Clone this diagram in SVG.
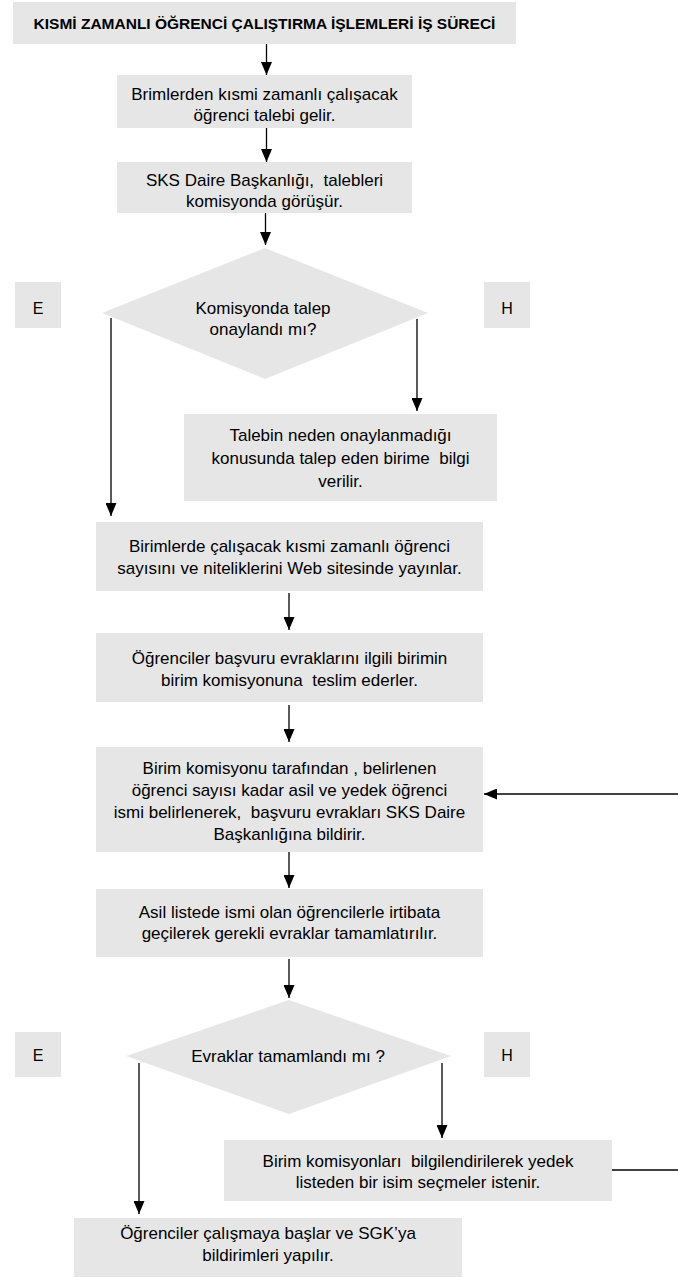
<svg xmlns="http://www.w3.org/2000/svg" width="678" height="1278" viewBox="0 0 678 1278">
<style>
.box{fill:#e6e6e6;stroke:none}
.t{font-family:"Liberation Sans",Arial,sans-serif;font-size:17px;fill:#000;text-anchor:middle;white-space:pre}
.lbl{font-family:"Liberation Sans",Arial,sans-serif;font-size:16px;fill:#000;text-anchor:middle}
.title{font-family:"Liberation Sans",Arial,sans-serif;font-size:15.5px;font-weight:bold;fill:#000;text-anchor:middle}
.c{stroke:#000;stroke-width:1.3;fill:none;marker-end:url(#ah)}
.l{stroke:#000;stroke-width:1.3;fill:none}
</style>
<defs>
<marker id="ah" markerUnits="userSpaceOnUse" markerWidth="13" markerHeight="11" refX="13" refY="5.5" orient="auto">
<path d="M0,0 L13,5.5 L0,11 z" fill="#000"/>
</marker>
</defs>
<rect width="678" height="1278" fill="#fff"/>
<g id="title">
<rect class="box" x="13" y="2" width="503" height="42"/>
<text class="title" x="264.5" y="29">KISMİ ZAMANLI ÖĞRENCİ ÇALIŞTIRMA İŞLEMLERİ İŞ SÜRECİ</text>
</g>
<g id="n1">
<rect class="box" x="117" y="75" width="295" height="53"/>
<text class="t" x="264.5" y="100">Brimlerden kısmi zamanlı çalışacak</text>
<text class="t" x="264.5" y="121">öğrenci talebi gelir.</text>
</g>
<g id="n2">
<rect class="box" x="117" y="162" width="295" height="51"/>
<text class="t" x="264.5" y="186">SKS Daire Başkanlığı,  talebleri</text>
<text class="t" x="264.5" y="207">komisyonda görüşür.</text>
</g>
<g id="d1">
<polygon class="box" points="265,248 428,313 265,379 102,313"/>
<text class="t" x="263" y="314">Komisyonda talep</text>
<text class="t" x="263" y="335">onaylandı mı?</text>
</g>
<g id="e1">
<rect class="box" x="15" y="282" width="46" height="46"/>
<text class="lbl" x="38" y="314">E</text>
</g>
<g id="h1">
<rect class="box" x="484" y="282" width="46" height="46"/>
<text class="lbl" x="507" y="314">H</text>
</g>
<g id="n3">
<rect class="box" x="184" y="414" width="313" height="87"/>
<text class="t" x="340.5" y="441">Talebin neden onaylanmadığı</text>
<text class="t" x="340.5" y="464">konusunda talep eden birime  bilgi</text>
<text class="t" x="340.5" y="487">verilir.</text>
</g>
<g id="n4">
<rect class="box" x="96" y="522" width="387" height="69"/>
<text class="t" x="289.5" y="552">Birimlerde çalışacak kısmi zamanlı öğrenci</text>
<text class="t" x="289.5" y="574">sayısını ve niteliklerini Web sitesinde yayınlar.</text>
</g>
<g id="n5">
<rect class="box" x="96" y="633" width="387" height="69"/>
<text class="t" x="289.5" y="664">Öğrenciler başvuru evraklarını ilgili birimin</text>
<text class="t" x="289.5" y="686">birim komisyonuna  teslim ederler.</text>
</g>
<g id="n6">
<rect class="box" x="96" y="747" width="387" height="105"/>
<text class="t" x="289.5" y="774">Birim komisyonu tarafından , belirlenen</text>
<text class="t" x="289.5" y="796">öğrenci sayısı kadar asil ve yedek öğrenci</text>
<text class="t" x="289.5" y="818">ismi belirlenerek,  başvuru evrakları SKS Daire</text>
<text class="t" x="289.5" y="840">Başkanlığına bildirir.</text>
</g>
<g id="n7">
<rect class="box" x="96" y="889" width="387" height="68"/>
<text class="t" x="289.5" y="918">Asil listede ismi olan öğrencilerle irtibata</text>
<text class="t" x="289.5" y="939">geçilerek gerekli evraklar tamamlatırılır.</text>
</g>
<g id="d2">
<polygon class="box" points="289,1000 451,1056 289,1114 126,1056"/>
<text class="t" x="288" y="1062">Evraklar tamamlandı mı ?</text>
</g>
<g id="e2">
<rect class="box" x="15" y="1032" width="46" height="45"/>
<text class="lbl" x="38" y="1061">E</text>
</g>
<g id="h2">
<rect class="box" x="484" y="1032" width="46" height="45"/>
<text class="lbl" x="507" y="1061">H</text>
</g>
<g id="n8">
<rect class="box" x="224" y="1140" width="388" height="61"/>
<text class="t" x="418" y="1167">Birim komisyonları  bilgilendirilerek yedek</text>
<text class="t" x="418" y="1188">listeden bir isim seçmeler istenir.</text>
</g>
<g id="n9">
<rect class="box" x="74" y="1218" width="388" height="59"/>
<text class="t" x="268" y="1239">Öğrenciler çalışmaya başlar ve SGK’ya</text>
<text class="t" x="268" y="1261">bildirimleri yapılır.</text>
</g>
<g id="connectors">
<line class="c" x1="266.5" y1="44" x2="266.5" y2="75"/>
<line class="c" x1="266.5" y1="128" x2="266.5" y2="162"/>
<line class="c" x1="265.5" y1="213" x2="265.5" y2="245"/>
<line class="c" x1="111" y1="318" x2="111" y2="516"/>
<line class="c" x1="417" y1="319" x2="417" y2="411"/>
<line class="c" x1="289" y1="593" x2="289" y2="630"/>
<line class="c" x1="289" y1="705" x2="289" y2="742"/>
<line class="c" x1="289" y1="852" x2="289" y2="888"/>
<line class="c" x1="289" y1="959" x2="289" y2="998"/>
<line class="c" x1="139" y1="1063" x2="139" y2="1214"/>
<line class="c" x1="442" y1="1063" x2="442" y2="1138"/>
<line class="l" x1="612" y1="1170" x2="678" y2="1170"/>
<line class="c" x1="678" y1="794" x2="484" y2="794"/>
</g>
</svg>
